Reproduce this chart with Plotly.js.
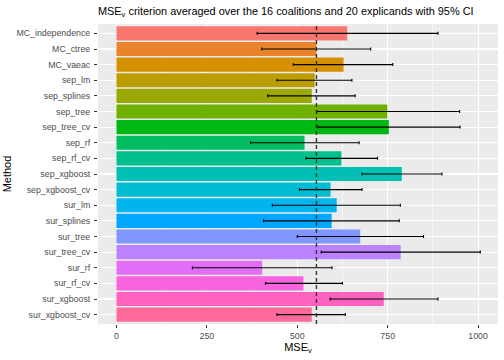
<!DOCTYPE html>
<html>
<head>
<meta charset="utf-8">
<script src="https://cdn.plot.ly/plotly-3.0.1.min.js"></script>
<style>html,body{margin:0;padding:0;background:#fff}#chart{width:504px;height:360px}</style>
</head>
<body>
<div id="chart"></div>
<script>
const methods = ["MC_independence","MC_ctree","MC_vaeac","sep_lm","sep_splines","sep_tree","sep_tree_cv","sep_rf","sep_rf_cv","sep_xgboost","sep_xgboost_cv","sur_lm","sur_splines","sur_tree","sur_tree_cv","sur_rf","sur_rf_cv","sur_xgboost","sur_xgboost_cv"];
const mseMean = [638,553,628,548,540,749,753,520,622,789,592,609,595,674,786,403,517,739,540];
const ciLower = [389,402,489,444,418,554,557,371,524,679,506,431,407,500,566,210,412,591,444];
const ciUpper = [889,703,764,651,660,949,950,671,722,900,679,785,782,849,1006,596,625,889,633];
const referenceMethod = "MC_ctree";
const xTicks = [0,250,500,750,1000];

function hcl(h, c, l) {
  const hr = h * Math.PI / 180;
  const U = c * Math.cos(hr), V = c * Math.sin(hr);
  const Xn = 95.047, Yn = 100, Zn = 108.883;
  const Y = Yn * Math.pow((l + 16) / 116, 3);
  const d = Xn + 15 * Yn + 3 * Zn;
  const un = 4 * Xn / d, vn = 9 * Yn / d;
  const up = U / (13 * l) + un, vp = V / (13 * l) + vn;
  const X = Y * 9 * up / (4 * vp);
  const Z = Y * (12 - 3 * up - 20 * vp) / (4 * vp);
  const x = X / 100, y = Y / 100, z = Z / 100;
  let r = 3.2404542 * x - 1.5371385 * y - 0.4985314 * z;
  let g = -0.9692660 * x + 1.8760108 * y + 0.0415560 * z;
  let b = 0.0556434 * x - 0.2040259 * y + 1.0572252 * z;
  const gam = v => { v = v <= 0.0031308 ? 12.92 * v : 1.055 * Math.pow(v, 1 / 2.4) - 0.055; return Math.round(Math.min(1, Math.max(0, v)) * 255); };
  return `rgb(${gam(r)},${gam(g)},${gam(b)})`;
}
const n = methods.length;
const colors = methods.map((m, i) => hcl(15 + i * 360 / n, 100, 65));

const refValue = mseMean[methods.indexOf(referenceMethod)];

const trace = {
  type: "bar",
  orientation: "h",
  x: mseMean,
  y: methods,
  marker: { color: colors, line: { width: 0 } },
  error_x: {
    type: "data",
    symmetric: false,
    array: ciUpper.map((u, i) => u - mseMean[i]),
    arrayminus: mseMean.map((m, i) => m - ciLower[i]),
    color: "#000",
    thickness: 1.1,
    width: 1.5
  },
  hoverinfo: "skip"
};

const layout = {
  width: 504, height: 360,
  margin: { l: 98, r: 6, t: 24, b: 36 },
  paper_bgcolor: "#fff",
  plot_bgcolor: "#EBEBEB",
  bargap: 0.1,
  showlegend: false,
  font: { family: "Liberation Sans, Arial, sans-serif", size: 8.8, color: "#4D4D4D" },
  title: {
    text: "MSE<sub>v</sub> criterion averaged over the 16 coalitions and 20 explicands with 95% CI",
    font: { size: 10.9, color: "#000" },
    xref: "paper", x: 0, xanchor: "left",
    yref: "container", y: 1 - 11 / 360, yanchor: "middle"
  },
  xaxis: {
    range: [-51, 1055],
    tickvals: xTicks,
    ticktext: xTicks.map(String),
    showgrid: true, gridcolor: "#fff", gridwidth: 1.1,
    minor: { dtick: 125, tick0: 125, showgrid: true, gridcolor: "#fff", gridwidth: 0.55 },
    zeroline: false, showline: false,
    ticks: "outside", ticklen: 3, tickwidth: 1, tickcolor: "#333",
    tickfont: { size: 8.8, color: "#4D4D4D" },
    title: { text: "MSE<sub>v</sub>", font: { size: 11, color: "#000" }, standoff: 1 }
  },
  yaxis: {
    type: "category",
    categoryorder: "array", categoryarray: methods,
    range: [n - 0.4, -0.6],
    showgrid: true, gridcolor: "#fff", gridwidth: 1.1,
    zeroline: false, showline: false,
    ticks: "outside", ticklen: 3, tickwidth: 1, tickcolor: "#333",
    tickfont: { size: 8.8, color: "#4D4D4D" },
    ticklabelstandoff: 2,
    title: { text: "Method", font: { size: 11, color: "#000" }, standoff: 2 }
  },
  shapes: [{
    type: "line", xref: "x", yref: "paper",
    x0: refValue, x1: refValue, y0: 0, y1: 1,
    line: { color: "#333", width: 1.4, dash: "4px,3px" },
    layer: "above"
  }]
};

Plotly.newPlot("chart", [trace], layout, { staticPlot: true, displayModeBar: false });
</script>
</body>
</html>
